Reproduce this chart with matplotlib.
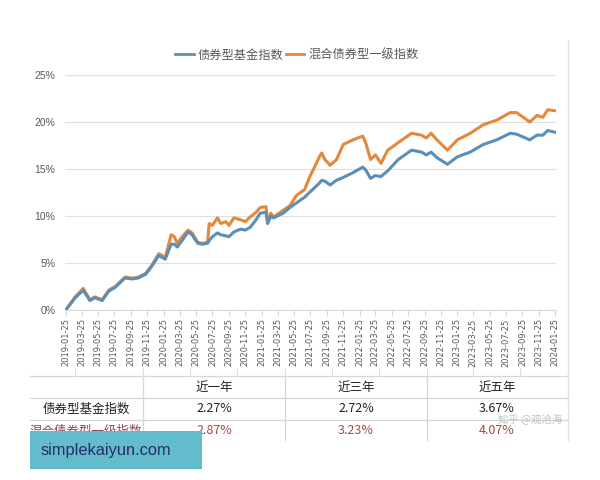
import matplotlib
matplotlib.use("Agg")
import matplotlib.pyplot as plt
import pandas as pd
from matplotlib.patches import Rectangle
from matplotlib.lines import Line2D

plt.rcParams['font.family'] = ['Noto Sans CJK SC', 'DejaVu Sans']

dates = ["2019-01-25", "2019-03-01", "2019-03-31", "2019-04-25", "2019-05-13", "2019-06-10",
         "2019-07-04", "2019-07-28", "2019-09-03", "2019-10-01", "2019-10-22", "2019-11-19",
         "2019-12-13", "2020-01-07", "2020-01-31", "2020-02-22", "2020-03-05", "2020-03-16",
         "2020-04-03", "2020-04-25", "2020-05-10", "2020-05-31", "2020-06-18", "2020-07-07",
         "2020-07-13", "2020-07-25", "2020-08-13", "2020-08-25", "2020-09-13", "2020-09-25",
         "2020-10-13", "2020-11-07", "2020-11-25", "2020-12-13", "2021-01-04", "2021-01-19",
         "2021-02-10", "2021-02-16", "2021-02-28", "2021-03-10", "2021-04-15", "2021-05-10",
         "2021-06-04", "2021-07-04", "2021-07-22", "2021-08-10", "2021-08-28", "2021-09-06",
         "2021-09-18", "2021-10-07", "2021-10-31", "2021-11-25", "2021-12-31", "2022-02-06",
         "2022-02-17", "2022-03-07", "2022-03-25", "2022-04-15", "2022-05-10", "2022-06-18",
         "2022-08-07", "2022-09-13", "2022-10-01", "2022-10-19", "2022-11-10", "2022-12-19",
         "2023-01-25", "2023-03-14", "2023-05-01", "2023-06-21", "2023-08-10", "2023-09-03",
         "2023-09-28", "2023-10-22", "2023-11-18", "2023-12-10", "2023-12-28", "2024-01-25"]

bond_fund = [0.0, 1.3, 2.1, 1.0, 1.3, 1.0, 2.0, 2.4, 3.4, 3.3, 3.4, 3.8,
             4.7, 5.8, 5.4, 7.0, 7.0, 6.7, 7.4, 8.3, 8.0, 7.1, 7.0, 7.1,
             7.4, 7.8, 8.2, 8.0, 7.9, 7.8, 8.3, 8.6, 8.5, 8.8, 9.6, 10.3,
             10.4, 9.2, 10.0, 9.8, 10.3, 10.9, 11.4, 12.0, 12.5, 13.0, 13.5, 13.8,
             13.7, 13.3, 13.8, 14.1, 14.6, 15.2, 14.9, 14.0, 14.3, 14.2, 14.8, 16.0,
             17.0, 16.8, 16.5, 16.8, 16.2, 15.5, 16.3, 16.8, 17.6, 18.1, 18.8, 18.7,
             18.4, 18.1, 18.6, 18.6, 19.1, 18.9]

mixed_bond = [0.0, 1.4, 2.3, 1.1, 1.4, 1.1, 2.1, 2.5, 3.5, 3.4, 3.5, 3.9,
              4.8, 6.0, 5.6, 8.0, 7.8, 7.1, 7.8, 8.5, 8.2, 7.2, 7.1, 7.2,
              9.2, 9.0, 9.8, 9.2, 9.4, 9.0, 9.8, 9.6, 9.4, 9.9, 10.4, 10.9,
              11.0, 9.3, 10.3, 9.9, 10.6, 11.1, 12.2, 12.8, 14.1, 15.2, 16.3, 16.7,
              16.0, 15.4, 16.0, 17.6, 18.1, 18.5, 17.8, 16.0, 16.5, 15.6, 17.0, 17.8,
              18.8, 18.6, 18.3, 18.8, 18.1, 17.0, 18.1, 18.8, 19.7, 20.2, 21.0, 21.0,
              20.5, 20.0, 20.7, 20.5, 21.3, 21.2]

series_names = ["债券型基金指数", "混合债券型一级指数"]
col_headers = ["近一年", "近三年", "近五年"]
row1_vals = ["2.27%", "2.72%", "3.67%"]
row2_vals = ["2.87%", "3.23%", "4.07%"]
tick_dates = pd.date_range("2019-01-01", periods=31, freq="2MS") + pd.Timedelta(days=24)
yticks = [0, 5, 10, 15, 20, 25]

blue = "#5b8fba"
orange = "#e4883c"
gray_text = "#595959"

fig = plt.figure(figsize=(6, 4.8), dpi=100)
ax = fig.add_axes([65/600, 1-310/480, 491/600, 235/480])

d = pd.to_datetime(dates)
ax.plot(d, bond_fund, color=blue, lw=2.2, zorder=3, solid_joinstyle='round')
ax.plot(d, mixed_bond, color=orange, lw=2.2, zorder=2, solid_joinstyle='round')

ax.set_ylim(0, 25)
ax.set_yticks(yticks)
ax.set_yticklabels([f"{v}%" for v in yticks], fontsize=7.5, color=gray_text,
                   family=['Liberation Sans'])
ax.set_xlim(pd.Timestamp("2019-01-22"), pd.Timestamp("2024-01-28"))
ax.set_xticks(tick_dates)
ax.set_xticklabels([t.strftime("%Y-%m-%d") for t in tick_dates], rotation=90,
                   fontsize=6.0, color=gray_text, family=['DejaVu Sans'])
ax.grid(axis='y', color="#e0e0e0", lw=0.9)
ax.set_axisbelow(True)
for s in ['top', 'right', 'left']:
    ax.spines[s].set_visible(False)
ax.spines['bottom'].set_color("#d9d9d9")
ax.tick_params(axis='y', length=0, pad=7)
ax.tick_params(axis='x', length=4, color="#d9d9d9", pad=2)

handles = [Line2D([], [], color=blue, lw=2), Line2D([], [], color=orange, lw=2)]
fig.legend(handles, series_names, loc='center', bbox_to_anchor=(297/600, 1-55/480),
           ncol=2, frameon=False, fontsize=8.8, handlelength=1.5, handletextpad=0.35,
           columnspacing=0.2, labelcolor=gray_text)

# right border of chart area
fig.add_artist(Line2D([568/600, 568/600], [1-40/480, 1-440/480], color="#e3e3e3", lw=1))

# table
def fy(py):
    return 1 - py/480
def fx(px):
    return px/600

for py in [376, 398, 420]:
    fig.add_artist(Line2D([fx(30), fx(568)], [fy(py), fy(py)], color="#d6d6d6", lw=0.9))
for px in [143, 285, 427]:
    fig.add_artist(Line2D([fx(px), fx(px)], [fy(376), fy(440)], color="#d6d6d6", lw=0.9))
for px in [75, 143, 190, 237, 285, 332, 379, 427, 473, 520]:
    fig.add_artist(Line2D([fx(px), fx(px)], [fy(368), fy(376)], color="#e0e0e0", lw=0.8))

col_centers = [214, 356, 497]
for cx, h in zip(col_centers, col_headers):
    fig.text(fx(cx), fy(387), h, ha='center', va='center', fontsize=9, color="#222222")
fig.text(fx(86), fy(409), series_names[0], ha='center', va='center', fontsize=9, color="#222222")
for cx, v in zip(col_centers, row1_vals):
    fig.text(fx(cx), fy(409), v, ha='center', va='center', fontsize=9, color="#222222")
fig.text(fx(86), fy(431), series_names[1], ha='center', va='center', fontsize=9, color="#8a4a55")
for cx, v in zip(col_centers, row2_vals):
    fig.text(fx(cx), fy(431), v, ha='center', va='center', fontsize=9, color="#a04848")

# watermark
fig.text(fx(530), fy(420), "知乎 @观沧海", ha='center', va='center', fontsize=7.5,
         color="#b8b8b8", alpha=0.85, zorder=5)

# overlay box
fig.add_artist(Rectangle((fx(30), fy(469)), fx(202) - fx(30), fy(431) - fy(469),
                         facecolor="#63bccb", edgecolor='none', zorder=6))
fig.text(fx(41), fy(450), "simplekaiyun.com", ha='left', va='center', fontsize=11.8,
         color="#2b2a6b", zorder=7, family=['Liberation Sans'])

fig.savefig("out.png", dpi=100, facecolor='white')
